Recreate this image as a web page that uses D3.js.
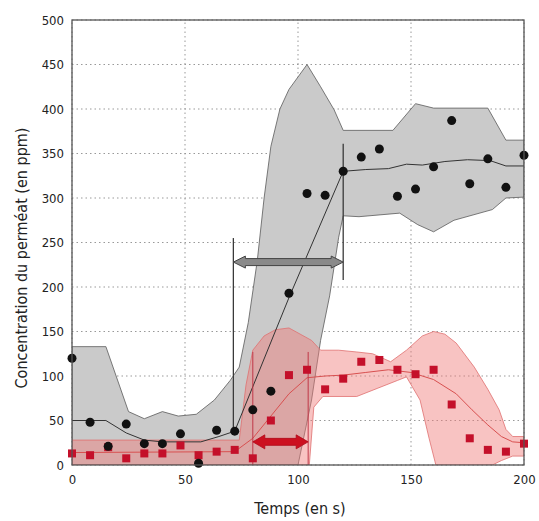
<!DOCTYPE html>
<html lang="fr">
<head>
<meta charset="UTF-8">
<title>Concentration du perméat</title>
<style>
  body { margin: 0; background: #fff; }
  text { font-family: "DejaVu Sans Condensed", "DejaVu Sans", sans-serif; font-stretch: condensed; fill: #222; }
</style>
</head>
<body>
<script src="https://d3js.org/d3.v7.min.js"></script>
<script>
  // temps des mesures (s)
  let times = [0, 8, 16, 24, 32, 40, 48, 56, 64, 72, 80, 88, 96, 104, 112, 120, 128, 136, 144, 152, 160, 168, 176, 184, 192, 200];
  // points noirs
  let blackValues = [120, 48, 21, 46, 24, 24, 35, 2, 39, 38, 62, 83, 193, 305, 303, 330, 346, 355, 302, 310, 335, 387, 316, 344, 312, 348];
  // carrés rouges
  let redValues = [13, 11, 20, 7.5, 13, 13, 22, 11, 15, 17, 7.5, 50, 101, 107, 85, 97, 116, 118, 107, 102, 107, 68, 30, 17, 15, 24];

  // courbes moyennes [t, ppm]
  let blackMean = [[0, 50], [15, 50], [24, 36], [32, 28], [40, 26], [50, 26], [57, 26], [65, 32], [72, 38], [96, 188], [120, 330], [130, 332], [140, 333], [148, 338], [155, 337], [165, 341], [175, 343], [185, 342], [192, 336], [200, 336]];
  let redMean = [[0, 14], [72, 15], [80, 30], [88, 55], [96, 80], [104, 98], [112, 100], [120, 101], [130, 104], [140, 107], [150, 104], [160, 96], [170, 80], [177, 62], [184, 45], [190, 32], [195, 26], [200, 25]];

  // enveloppes
  let grayUpper = [[0, 133], [15, 133], [25, 60], [32, 52], [40, 60], [47, 55], [55, 57], [63, 73], [70, 95], [74, 110], [78, 160], [82, 230], [85, 300], [88, 358], [92, 400], [96, 422], [104, 450], [110, 425], [116, 399], [120, 376], [142, 376], [152, 406], [160, 401], [184, 401], [192, 365], [200, 365]];
  let grayLower = [[0, 0], [100, 0], [106, 73], [110, 140], [114, 190], [118, 256], [120, 280], [127, 279], [145, 283], [153, 270], [160, 262], [169, 275], [186, 287], [192, 300], [200, 301]];
  let redUpper = [[0, 28], [74, 28], [77, 90], [80, 129], [85, 145], [90, 152], [96, 154], [106, 140], [110, 129], [118, 129], [126, 127], [133, 125], [141, 116], [148, 129], [155, 145], [160, 150], [165, 147], [170, 137], [178, 110], [184, 85], [189, 62], [192, 40], [195, 32], [200, 32]];
  let redLower = [[0, 0], [105, 0], [107, 65], [111, 77], [126, 77], [135, 86], [144, 95], [148, 99], [154, 73], [158, 30], [161, 0], [186, 0], [190, 5], [195, 10], [200, 10]];

  // repères : traits verticaux et flèches
  let grayMarks = [[71.4, 39, 255], [120, 208, 361]];
  let grayArrow = [71.4, 120, 228];
  let redMarks = [[80, 0, 127], [104.5, 0, 127]];
  let redArrow = [80, 104.5, 26];

  let xTicks = [0, 50, 100, 150, 200];
  let yTicks = [0, 50, 100, 150, 200, 250, 300, 350, 400, 450, 500];

  let width = 539;
  let height = 521;
  let padding = { top: 20, right: 15, bottom: 56, left: 72 };

  let xScale = d3.scaleLinear()
      .domain([0, 200])
      .range([padding.left, width - padding.right]);
  let yScale = d3.scaleLinear()
      .domain([0, 500])
      .range([height - padding.bottom, padding.top]);

  let svg = d3.select('body')
      .append('svg')
      .attr('width', width)
      .attr('height', height);

  svg.append('defs')
      .append('clipPath')
      .attr('id', 'plot')
      .append('rect')
      .attr('x', xScale(0))
      .attr('y', yScale(500))
      .attr('width', xScale(200) - xScale(0))
      .attr('height', yScale(0) - yScale(500));

  // grille pointillée
  svg.append('g')
      .selectAll('line')
      .data(yTicks)
      .enter()
      .append('line')
      .attr('x1', xScale(0))
      .attr('x2', xScale(200))
      .attr('y1', d => yScale(d))
      .attr('y2', d => yScale(d))
      .attr('stroke', '#999')
      .attr('stroke-width', 1)
      .attr('stroke-dasharray', '1.5,3');
  svg.append('g')
      .selectAll('line')
      .data(xTicks)
      .enter()
      .append('line')
      .attr('x1', d => xScale(d))
      .attr('x2', d => xScale(d))
      .attr('y1', yScale(0))
      .attr('y2', yScale(500))
      .attr('stroke', '#999')
      .attr('stroke-width', 1)
      .attr('stroke-dasharray', '1.5,3');

  let line = d3.line()
      .x(d => xScale(d[0]))
      .y(d => yScale(d[1]));

  function band(upper, lower) {
    return line(upper.concat(lower.slice().reverse())) + 'Z';
  }

  let plot = svg.append('g').attr('clip-path', 'url(#plot)');

  plot.append('path')
      .attr('d', band(grayUpper, grayLower))
      .attr('fill', '#cacaca')
      .attr('stroke', '#5a5a5a')
      .attr('stroke-width', 0.8);

  plot.append('path')
      .attr('d', band(redUpper, redLower))
      .attr('fill', '#f07a78')
      .attr('fill-opacity', 0.45)
      .attr('stroke', '#e07070')
      .attr('stroke-width', 0.8);

  plot.append('path')
      .attr('d', line(blackMean))
      .attr('fill', 'none')
      .attr('stroke', '#333')
      .attr('stroke-width', 1);

  plot.append('path')
      .attr('d', line(redMean))
      .attr('fill', 'none')
      .attr('stroke', '#d85050')
      .attr('stroke-width', 1);

  // traits verticaux
  svg.append('g')
      .selectAll('line')
      .data(grayMarks)
      .enter()
      .append('line')
      .attr('x1', d => xScale(d[0]))
      .attr('x2', d => xScale(d[0]))
      .attr('y1', d => yScale(d[1]))
      .attr('y2', d => yScale(d[2]))
      .attr('stroke', '#3a3a3a')
      .attr('stroke-width', 1.3);
  svg.append('g')
      .selectAll('line')
      .data(redMarks)
      .enter()
      .append('line')
      .attr('x1', d => xScale(d[0]))
      .attr('x2', d => xScale(d[0]))
      .attr('y1', d => yScale(d[1]))
      .attr('y2', d => yScale(d[2]))
      .attr('stroke', '#c03848')
      .attr('stroke-width', 1);

  // flèche double
  function arrow(a, head, half, shaft) {
    let x1 = xScale(a[0]), x2 = xScale(a[1]), y = yScale(a[2]);
    return 'M' + x1 + ',' + y +
      'L' + (x1 + head) + ',' + (y - half) +
      'L' + (x1 + head) + ',' + (y - shaft) +
      'L' + (x2 - head) + ',' + (y - shaft) +
      'L' + (x2 - head) + ',' + (y - half) +
      'L' + x2 + ',' + y +
      'L' + (x2 - head) + ',' + (y + half) +
      'L' + (x2 - head) + ',' + (y + shaft) +
      'L' + (x1 + head) + ',' + (y + shaft) +
      'L' + (x1 + head) + ',' + (y + half) + 'Z';
  }

  svg.append('path')
      .attr('d', arrow(grayArrow, 12, 6, 3.5))
      .attr('fill', '#8a8a8a')
      .attr('stroke', '#444')
      .attr('stroke-width', 1);

  svg.append('path')
      .attr('d', arrow(redArrow, 12, 7, 3.5))
      .attr('fill', '#cc1020')
      .attr('stroke', '#b00818')
      .attr('stroke-width', 0.8);

  // carrés rouges
  svg.append('g')
      .selectAll('rect')
      .data(times)
      .enter()
      .append('rect')
      .attr('x', (d, i) => xScale(d) - 4)
      .attr('y', (d, i) => yScale(redValues[i]) - 4)
      .attr('width', 8)
      .attr('height', 8)
      .attr('fill', '#c4102a');

  // points noirs
  svg.append('g')
      .selectAll('circle')
      .data(times)
      .enter()
      .append('circle')
      .attr('cx', d => xScale(d))
      .attr('cy', (d, i) => yScale(blackValues[i]))
      .attr('r', 4.5)
      .attr('fill', '#111');

  // cadre
  svg.append('rect')
      .attr('x', xScale(0))
      .attr('y', yScale(500))
      .attr('width', xScale(200) - xScale(0))
      .attr('height', yScale(0) - yScale(500))
      .attr('fill', 'none')
      .attr('stroke', '#555')
      .attr('stroke-width', 1.3);

  let xAxis = d3.axisBottom(xScale).tickValues(xTicks).tickSize(0).tickPadding(10);
  let yAxis = d3.axisLeft(yScale).tickValues(yTicks).tickSize(0).tickPadding(8);

  svg.append('g')
      .attr('transform', 'translate(0,' + yScale(0) + ')')
      .call(xAxis)
      .call(g => g.select('.domain').remove())
      .selectAll('text')
      .attr('font-size', 13)
      .attr('fill', '#222');

  svg.append('g')
      .attr('transform', 'translate(' + xScale(0) + ',0)')
      .call(yAxis)
      .call(g => g.select('.domain').remove())
      .selectAll('text')
      .attr('font-size', 13)
      .attr('fill', '#222');

  svg.append('text')
      .attr('x', 300)
      .attr('y', 514)
      .attr('text-anchor', 'middle')
      .attr('font-size', 16)
      .text('Temps (en s)');

  svg.append('text')
      .attr('transform', 'translate(27,' + 258 + ') rotate(-90)')
      .attr('text-anchor', 'middle')
      .attr('font-size', 16)
      .text('Concentration du perméat (en ppm)');
</script>
</body>
</html>
